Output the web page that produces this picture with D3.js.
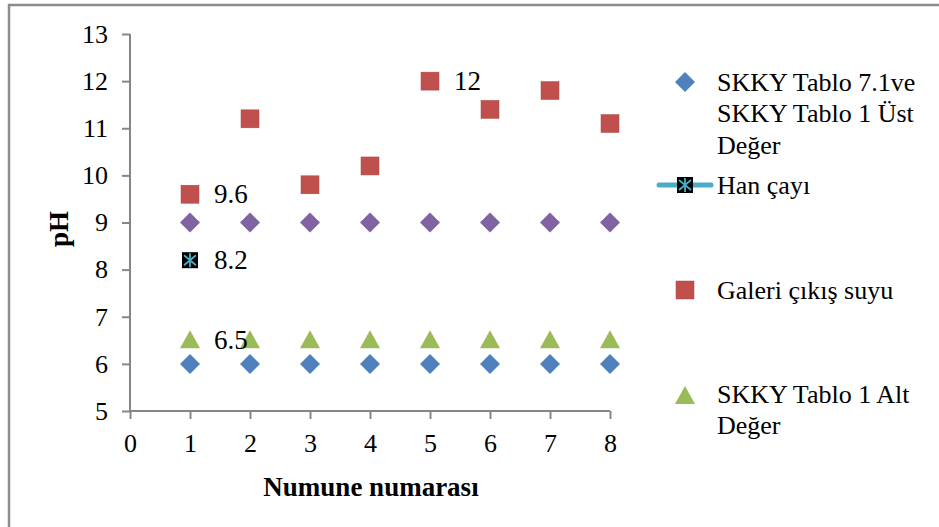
<!DOCTYPE html>
<html><head><meta charset="utf-8">
<script src="https://cdn.jsdelivr.net/npm/d3@7"></script>
<style>body{margin:0;background:#fff}svg{display:block}text{font-family:"Liberation Serif","Times New Roman",serif}</style>
</head><body><svg id="c" width="939" height="527"></svg>
<script>
const samples = [1,2,3,4,5,6,7,8];
const upperLimit = [6,6,6,6,6,6,6,6];          // blue diamonds
const hanCayi = [8.2];                          // only sample 1
const galeri = [9.6,11.2,9.8,10.2,12,11.4,11.8,11.1];
const lowerLimit = [6.5,6.5,6.5,6.5,6.5,6.5,6.5,6.5];
const purpleSeries = [9,9,9,9,9,9,9,9];
const yTicks = [5,6,7,8,9,10,11,12,13];
const xTicks = [0,1,2,3,4,5,6,7,8];
const labels = [
  {series:"galeri", i:0, text:"9.6"},
  {series:"han", i:0, text:"8.2"},
  {series:"galeri", i:4, text:"12"},
  {series:"lower", i:0, text:"6.5"}
];
const legendItems = ["SKKY Tablo 7.1ve|SKKY Tablo 1 Üst|Değer","Han çayı","Galeri çıkış suyu","SKKY Tablo 1 Alt|Değer"];

const C = {blue:"#4F81BD", red:"#C0504D", green:"#9BBB59", purple:"#8064A2", cyan:"#4BACC6", axis:"#868686"};
const svg = d3.select("#c");
svg.append("path").attr("d","M9,527V5H939").attr("fill","none").attr("stroke","#8c8c8c").attr("stroke-width",2.5);

const x = d3.scaleLinear().domain([0,8]).range([130,610]);
const y = d3.scaleLinear().domain([5,13]).range([411,34]);

const ya = svg.append("g").attr("transform","translate(130,0)")
  .call(d3.axisLeft(y).tickValues(yTicks).tickSize(8).tickPadding(14).tickFormat(d3.format("d")));
const xa = svg.append("g").attr("transform","translate(0,411)")
  .call(d3.axisBottom(x).tickValues(xTicks).tickSize(8).tickPadding(15).tickFormat(d3.format("d")));
[ya,xa].forEach(a=>{
  a.selectAll("path,line").attr("stroke",C.axis).attr("stroke-width",2);
  a.selectAll("text").attr("font-size",26).attr("fill","#000");
});
ya.select("path").attr("d","M0,34V411");
xa.select("path").attr("d","M130,0H610");

svg.append("text").attr("transform","translate(68,229) rotate(-90)").attr("text-anchor","middle")
  .attr("font-size",27).attr("font-weight","bold").text("pH");
svg.append("text").attr("x",371).attr("y",496).attr("text-anchor","middle")
  .attr("font-size",27).attr("font-weight","bold").text("Numune numarası");

function diamond(g,cx,cy,col){g.append("path").attr("d","M0,-10L10,0L0,10L-10,0Z").attr("transform",`translate(${cx},${cy})`).attr("fill",col);}
function square(g,cx,cy,col){g.append("rect").attr("x",cx-9).attr("y",cy-9).attr("width",18).attr("height",18).attr("fill",col).attr("stroke",d3.color(col).darker(0.3)).attr("stroke-width",0.5);}
function tri(g,cx,cy,col){g.append("path").attr("d","M0,-10L10,8L-10,8Z").attr("transform",`translate(${cx},${cy})`).attr("fill",col);}
function star(g,cx,cy){
  const s=g.append("g").attr("transform",`translate(${cx},${cy})`);
  s.append("rect").attr("x",-8).attr("y",-8).attr("width",16).attr("height",16).attr("fill","#000");
  s.append("path").attr("d","M0,-7V7M-6,-5L6,5M-6,5L6,-5").attr("stroke",C.cyan).attr("stroke-width",1.8);
}
const m = svg.append("g");
samples.forEach((s,i)=>{
  diamond(m,x(s),y(upperLimit[i]),C.blue);
  diamond(m,x(s),y(purpleSeries[i]),C.purple);
  tri(m,x(s),y(lowerLimit[i]),C.green);
  square(m,x(s),y(galeri[i]),C.red);
});
hanCayi.forEach((v,i)=>star(m,x(samples[i]),y(v)));

const src = {galeri, han:hanCayi, lower:lowerLimit};
labels.forEach(l=>{
  svg.append("text").attr("x",x(samples[l.i])+24).attr("y",y(src[l.series][l.i])).attr("dy","0.33em")
    .attr("font-size",27).text(l.text);
});

// legend
const lg = svg.append("g");
const lx = 685, tx = 717;
const lys = [82,185,290,394];
diamond(lg,lx,lys[0],C.blue);
lg.append("line").attr("x1",659).attr("x2",711).attr("y1",lys[1]).attr("y2",lys[1]).attr("stroke",C.cyan).attr("stroke-width",5).attr("stroke-linecap","round");
star(lg,lx,lys[1]);
square(lg,lx,lys[2],C.red);
tri(lg,lx,lys[3]+2,C.green);
legendItems.forEach((t,k)=>{
  const te = lg.append("text").attr("x",tx).attr("y",lys[k]).attr("font-size",26);
  t.split("|").forEach((ln,j)=>te.append("tspan").attr("x",tx).attr("dy", j===0?"0.33em":"31.5").text(ln));
});
</script></body></html>
